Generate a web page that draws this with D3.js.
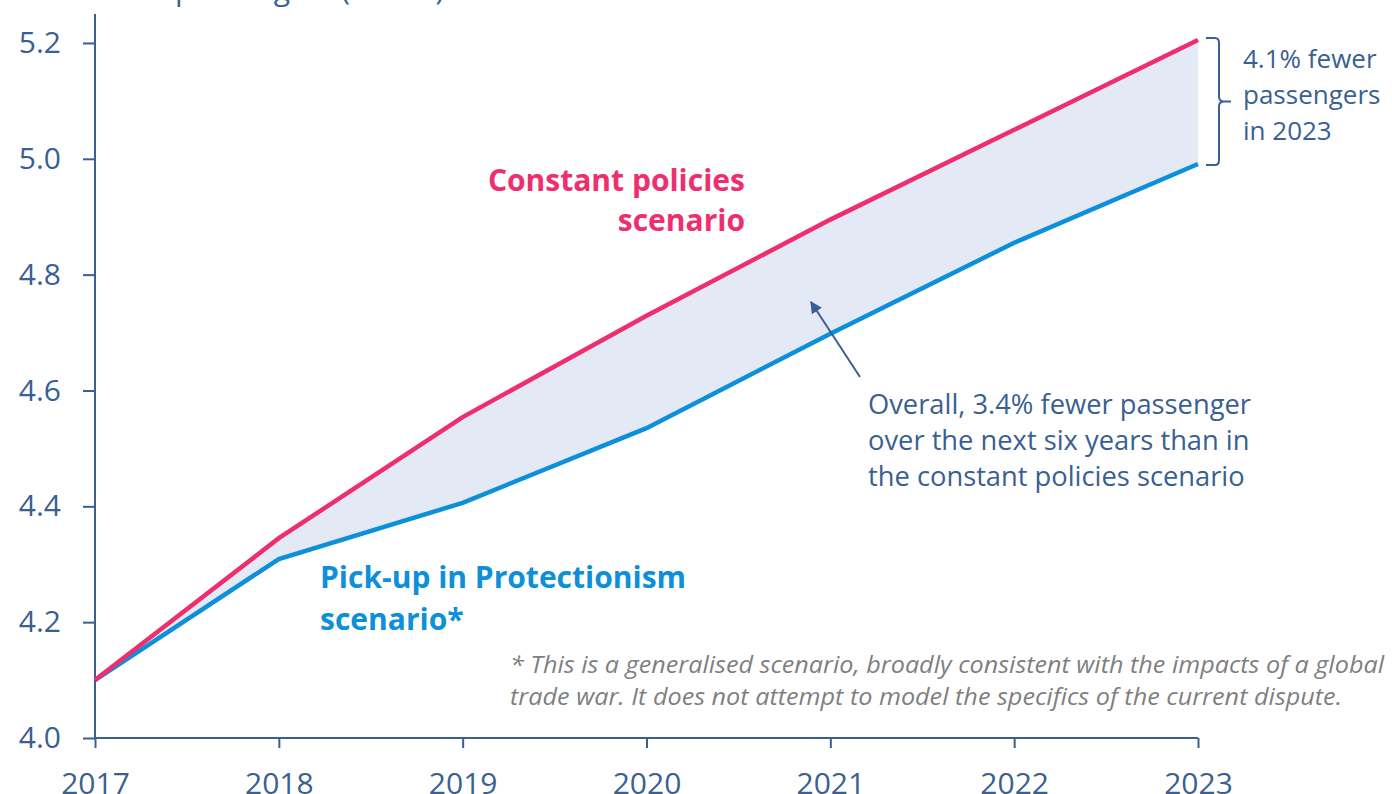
<!DOCTYPE html>
<html>
<head>
<meta charset="UTF-8">
<script src="https://cdn.jsdelivr.net/npm/d3@7"></script>
<style>
  body { margin: 0; background: #fff; }
  text { font-family: "Open Sans", sans-serif; }
</style>
</head>
<body>
<div id="chart"></div>
<script>
// data
var years = [2017, 2018, 2019, 2020, 2021, 2022, 2023];
var constantPolicies = [4.10, 4.345, 4.554, 4.729, 4.895, 5.050, 5.205];
var protectionism = [4.10, 4.309, 4.406, 4.535, 4.698, 4.855, 4.991];
var yTicks = [4.0, 4.2, 4.4, 4.6, 4.8, 5.0, 5.2];

var W = 1392, H = 794;
var axisCol = "#3a5f92", pink = "#ee2e6f", blue = "#0d8fd9";

var svg = d3.select("#chart").append("svg")
  .attr("width", W).attr("height", H);

var x = d3.scaleLinear().domain([2017, 2023]).range([95, 1198]);
var y = d3.scaleLinear().domain([4.0, 5.25]).range([738, 14]);

// title, mostly above the top edge
svg.append("text")
  .attr("x", 15).attr("y", 0)
  .attr("font-size", 30).attr("fill", axisCol)
  .text("Number of passengers (billion)");

// shaded gap between scenarios
var rows = years.map(function(d, i) { return {yr: d, a: constantPolicies[i], b: protectionism[i]}; });
svg.append("path")
  .datum(rows)
  .attr("fill", "#e4eaf5")
  .attr("d", d3.area()
    .x(function(d) { return x(d.yr); })
    .y0(function(d) { return y(d.b); })
    .y1(function(d) { return y(d.a); }));

// axes
var yAxis = svg.append("g")
  .attr("transform", "translate(95,0)")
  .call(d3.axisLeft(y).tickValues(yTicks).tickFormat(d3.format(".1f")).tickSize(12).tickPadding(22));
var xAxis = svg.append("g")
  .attr("transform", "translate(0,738)")
  .call(d3.axisBottom(x).tickValues(years).tickFormat(d3.format("d")).tickSize(10).tickPadding(20));

[yAxis, xAxis].forEach(function(a) {
  a.select(".domain").attr("stroke", axisCol).attr("stroke-width", 2);
  a.selectAll(".tick line").attr("stroke", axisCol).attr("stroke-width", 2);
  a.selectAll(".tick text").attr("fill", axisCol).attr("font-size", 30)
    .attr("font-family", "Open Sans, sans-serif");
});
// no outer tick stubs at the ends of the domains
yAxis.select(".domain").attr("d", "M0," + y(5.25) + "V" + y(4.0));
xAxis.select(".domain").attr("d", "M" + x(2017) + ",0H" + x(2023));
xAxis.selectAll(".tick text").attr("dy", "0.88em");

// lines
var line = d3.line().x(function(d) { return x(d[0]); }).y(function(d) { return y(d[1]); });
svg.append("path")
  .datum(years.map(function(d, i) { return [d, protectionism[i]]; }))
  .attr("fill", "none").attr("stroke", blue).attr("stroke-width", 4.5)
  .attr("d", line);
svg.append("path")
  .datum(years.map(function(d, i) { return [d, constantPolicies[i]]; }))
  .attr("fill", "none").attr("stroke", pink).attr("stroke-width", 4.5)
  .attr("d", line);

// multi-line text helper
function lines(g, xx, yy, arr, lh, lens) {
  arr.forEach(function(t, i) {
    var ts = g.append("tspan").attr("x", xx).attr("y", yy + i * lh).text(t);
    if (lens) ts.attr("textLength", lens[i]).attr("lengthAdjust", "spacingAndGlyphs");
  });
}

// series labels
var cl = svg.append("text").attr("text-anchor", "end").attr("font-size", 30)
  .attr("font-weight", "bold").attr("fill", pink);
lines(cl, 745, 191, ["Constant policies", "scenario"], 40);

var pl = svg.append("text").attr("font-size", 30)
  .attr("font-weight", "bold").attr("fill", blue);
lines(pl, 320, 588, ["Pick-up in Protectionism", "scenario*"], 42);

// bracket at 2023
var yTop = y(constantPolicies[6]) - 2, yBot = y(protectionism[6]) + 1, yMid = (yTop + yBot) / 2;
var bx = 1219;
svg.append("path")
  .attr("fill", "none").attr("stroke", axisCol).attr("stroke-width", 2)
  .attr("d", "M1206," + yTop + "H" + (bx - 4) + "Q" + bx + "," + yTop + " " + bx + "," + (yTop + 5) +
    "V" + (yMid - 5) + "Q" + bx + "," + yMid + " " + (bx + 5) + "," + yMid + "H" + 1231 +
    "M" + (bx + 5) + "," + yMid + "Q" + bx + "," + yMid + " " + bx + "," + (yMid + 5) +
    "V" + (yBot - 5) + "Q" + bx + "," + yBot + " " + (bx - 4) + "," + yBot + "H1206");

var bt = svg.append("text").attr("font-size", 26).attr("fill", axisCol);
lines(bt, 1243, 68, ["4.1% fewer", "passengers", "in 2023"], 36);

// overall annotation with arrow
svg.append("defs").append("marker")
  .attr("id", "arr").attr("viewBox", "0 0 10 10").attr("refX", 9).attr("refY", 5)
  .attr("markerWidth", 6).attr("markerHeight", 6).attr("orient", "auto")
  .append("path").attr("d", "M0,0L10,5L0,10z").attr("fill", axisCol);
svg.append("line")
  .attr("x1", 860).attr("y1", 377).attr("x2", 811).attr("y2", 302)
  .attr("stroke", axisCol).attr("stroke-width", 2).attr("marker-end", "url(#arr)");

var ot = svg.append("text").attr("font-size", 27.3).attr("fill", axisCol);
lines(ot, 868, 414, ["Overall, 3.4% fewer passenger", "over the next six years than in", "the constant policies scenario"], 36);

// footnote
var ft = svg.append("text").attr("font-size", 23).attr("font-style", "italic").attr("fill", "#7f7f7f");
lines(ft, 510, 673, ["* This is a generalised scenario, broadly consistent with the impacts of a global",
  "trade war. It does not attempt to model the specifics of the current dispute."], 32, [874, 832]);
</script>
</body>
</html>
